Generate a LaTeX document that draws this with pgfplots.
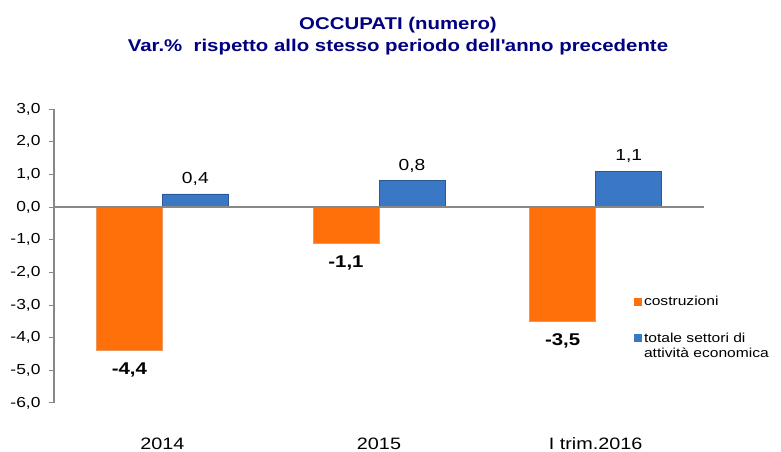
\documentclass[border=0pt]{standalone}
\usepackage{fontspec}
\setmainfont{Liberation Sans}[FakeStretch=1.2]
\usepackage{pgfplots}
\pgfplotsset{compat=1.18}
\definecolor{navyt}{RGB}{0,0,128}
\definecolor{orgfill}{RGB}{255,112,10}
\definecolor{orgdraw}{RGB}{235,150,90}
\definecolor{bluefill}{RGB}{58,119,197}
\definecolor{bluedraw}{RGB}{40,90,150}
\definecolor{axgray}{RGB}{136,136,136}
\begin{document}
\begin{tikzpicture}[x=1pt,y=1pt]
\useasboundingbox (0,0) rectangle (781,452);
\node[font=\fontsize{17}{22}\selectfont\bfseries, text=navyt, align=center] at (398,415.5) {OCCUPATI (numero)\\Var.\%~~rispetto allo stesso periodo dell\textquotesingle anno precedente};
\begin{axis}[at={(54pt,49pt)}, anchor=south west, width=650pt, height=294pt, scale only axis,
  ymin=-6, ymax=3, ytick={-6,-5,...,3},
  yticklabels={{-6,0},{-5,0},{-4,0},{-3,0},{-2,0},{-1,0},{0,0},{1,0},{2,0},{3,0}},
  xmin=-0.5, xmax=2.5, xtick={0,1,2},
  xticklabels={2014,2015,I trim.2016},
  axis lines*=left, x axis line style={draw=none}, xtick style={draw=none},
  y axis line style={axgray, line width=1.2pt}, ytick style={axgray, line width=1pt},
  tick align=outside, major tick length=5pt,
  /pgf/number format/.cd, fixed, fixed zerofill, precision=1, use comma, assume math mode=true, /pgfplots/.cd,
  yticklabel style={font=\fontsize{14.5}{16}\selectfont, xshift=-5pt},
  xticklabel style={font=\fontsize{16.5}{18}\selectfont, yshift=-26pt},
  ybar=0pt, bar width=66pt,
  legend style={at={(axis description cs:0.892,0.37)}, anchor=north west, draw=none, fill=none,
    font=\fontsize{13}{15.5}\selectfont, row sep=20pt, inner sep=0pt, cells={anchor=base west}},
  legend image code/.code={\fill[#1,draw=none] (0pt,0pt) rectangle (8pt,8pt);},
  clip=false,
]
\addplot[fill=orgfill, draw=orgdraw, line width=0.8pt, nodes near coords,
  nodes near coords style={font=\fontsize{17}{20}\selectfont\bfseries, text=black, anchor=north, inner sep=0pt, yshift=-12pt}]
  coordinates {(0,-4.4) (1,-1.1) (2,-3.5)};
\addlegendentry{costruzioni}
\addplot[fill=bluefill, draw=bluedraw, line width=0.8pt, nodes near coords,
  nodes near coords style={font=\fontsize{16}{20}\selectfont, text=black, anchor=south, inner sep=0pt, yshift=8pt}]
  coordinates {(0,0.4) (1,0.8) (2,1.1)};
\addlegendentry{\begin{tabular}[t]{@{}l@{}}totale settori di\\attività economica\end{tabular}}
\draw[axgray, line width=2pt] (axis cs:-0.5,0) -- (axis cs:2.5,0);
\end{axis}
\end{tikzpicture}
\end{document}
